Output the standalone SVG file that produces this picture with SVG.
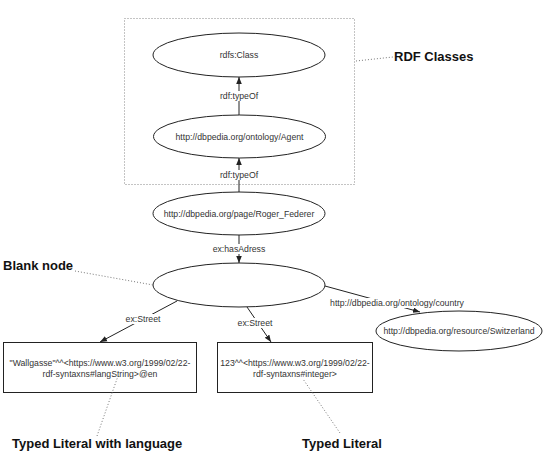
<svg xmlns="http://www.w3.org/2000/svg" width="543" height="454" viewBox="0 0 543 454">
  <style>
    .node { fill: #fff; stroke: #222; stroke-width: 1; }
    .edge { fill: none; stroke: #222; stroke-width: 1; }
    .note { fill: none; stroke: #777; stroke-width: 1; stroke-dasharray: 1 2; }
    .t { font-family: "Liberation Sans", Arial, sans-serif; font-size: 8.7px; fill: #333; text-anchor: middle; }
    .lbl { font-family: "Liberation Sans", Arial, sans-serif; font-size: 8.7px; fill: #333; text-anchor: middle; }
    .big { font-family: "Liberation Sans", Arial, sans-serif; font-size: 13px; font-weight: bold; fill: #111; }
    .bg { fill: #fff; }
  </style>
  <defs>
    <marker id="arrow" viewBox="0 0 10 10" refX="10" refY="5" markerWidth="7" markerHeight="7" orient="auto" markerUnits="userSpaceOnUse">
      <path d="M0,1 L10,5 L0,9 z" fill="#222"/>
    </marker>
  </defs>
  <rect width="543" height="454" fill="#fff"/>

  <!-- container for the class hierarchy -->
  <rect x="124.5" y="18.5" width="230" height="166" fill="none" stroke="#888" stroke-dasharray="1 2"/>

  <g id="connectors">
    <line class="edge" x1="239" y1="115" x2="239" y2="77" marker-end="url(#arrow)"/>
    <rect class="bg" x="220" y="91" width="38" height="10"/>
    <text class="lbl" x="239" y="99">rdf:typeOf</text>

    <line class="edge" x1="239" y1="192" x2="239" y2="158" marker-end="url(#arrow)"/>
    <rect class="bg" x="220" y="170" width="38" height="10"/>
    <text class="lbl" x="239" y="178">rdf:typeOf</text>

    <line class="edge" x1="239" y1="235" x2="239" y2="263" marker-end="url(#arrow)"/>
    <rect class="bg" x="214" y="244" width="50" height="10"/>
    <text class="lbl" x="239" y="252">ex:hasAdress</text>

    <line class="edge" x1="177" y1="301" x2="100" y2="342" marker-end="url(#arrow)"/>
    <rect class="bg" x="125" y="314" width="36" height="10"/>
    <text class="lbl" x="143" y="322">ex:Street</text>

    <line class="edge" x1="247" y1="307" x2="271" y2="342" marker-end="url(#arrow)"/>
    <rect class="bg" x="237" y="318" width="36" height="10"/>
    <text class="lbl" x="255" y="326">ex:Street</text>

    <line class="edge" x1="325" y1="286" x2="420" y2="312" marker-end="url(#arrow)"/>
    <rect class="bg" x="330" y="298" width="134" height="10"/>
    <text class="lbl" x="397" y="306">http://dbpedia.org/ontology/country</text>
  </g>

  <g id="rdfs-class">
    <ellipse class="node" cx="239" cy="55" rx="86" ry="22"/>
    <text class="t" x="239" y="58">rdfs:Class</text>
  </g>
  <g id="agent">
    <ellipse class="node" cx="239.5" cy="136.5" rx="86" ry="21.5"/>
    <text class="t" x="239.5" y="139.5">http://dbpedia.org/ontology/Agent</text>
  </g>
  <g id="roger-federer">
    <ellipse class="node" cx="239" cy="213.5" rx="86" ry="21.5"/>
    <text class="t" x="239" y="216.5">http://dbpedia.org/page/Roger_Federer</text>
  </g>
  <g id="blank-node">
    <ellipse class="node" cx="239" cy="285" rx="86" ry="22"/>
  </g>
  <g id="switzerland">
    <ellipse class="node" cx="459" cy="331" rx="83" ry="20"/>
    <text class="t" x="459" y="334">http://dbpedia.org/resource/Switzerland</text>
  </g>
  <g id="literal-lang">
    <rect class="node" x="3.5" y="342.5" width="193" height="50"/>
    <text class="t" x="100" y="366">"Wallgasse"^^&lt;https://www.w3.org/1999/02/22-</text>
    <text class="t" x="100" y="377">rdf-syntaxns#langString&gt;@en</text>
  </g>
  <g id="literal-typed">
    <rect class="node" x="217.5" y="342.5" width="155" height="50"/>
    <text class="t" x="295" y="366">123^^&lt;https://www.w3.org/1999/02/22-</text>
    <text class="t" x="295" y="377">rdf-syntaxns#integer&gt;</text>
  </g>

  <!-- annotations -->
  <g id="annotations">
    <line class="note" x1="356" y1="61" x2="393" y2="57"/>
    <text class="big" x="394" y="61">RDF Classes</text>

    <line class="note" x1="75" y1="271" x2="153" y2="285"/>
    <text class="big" x="3" y="270">Blank node</text>

    <line class="note" x1="97" y1="436" x2="118" y2="376"/>
    <text class="big" x="12" y="448">Typed Literal with language</text>

    <line class="note" x1="340" y1="433" x2="303" y2="379"/>
    <text class="big" x="302" y="448">Typed Literal</text>
  </g>
</svg>
